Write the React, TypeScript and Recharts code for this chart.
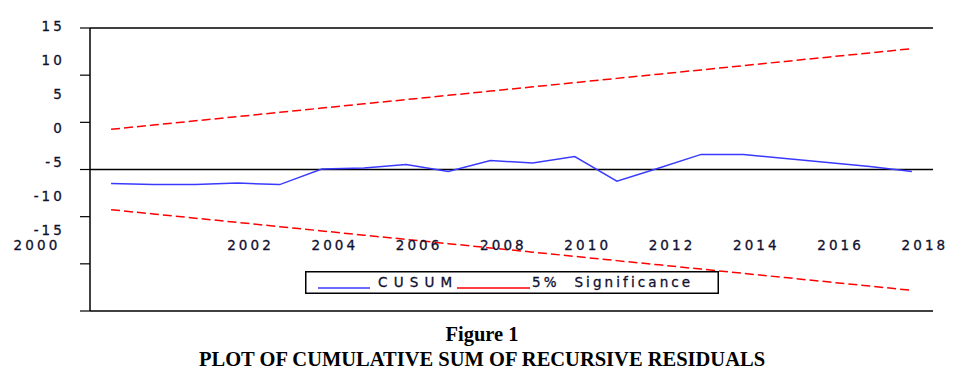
import { LineChart, Line, XAxis, YAxis, ReferenceLine, Legend } from 'recharts';

const years = [1999, 2000, 2001, 2002, 2003, 2004, 2005, 2006, 2007, 2008, 2009, 2010, 2011, 2012, 2013, 2014, 2015, 2016, 2017, 2018];
const cusum = [-1.49, -1.6, -1.6, -1.44, -1.6, 0.05, 0.16, 0.53, -0.21, 0.96, 0.69, 1.38, -1.24, 0.16, 1.6, 1.6, 1.17, 0.74, 0.32, -0.21];
const upper = [4.26, 4.71, 5.16, 5.61, 6.06, 6.51, 6.96, 7.41, 7.86, 8.31, 8.76, 9.21, 9.66, 10.11, 10.56, 11.01, 11.46, 11.91, 12.36, 12.81];
const lower = [-4.26, -4.71, -5.16, -5.61, -6.06, -6.51, -6.96, -7.41, -7.86, -8.31, -8.76, -9.21, -9.66, -10.11, -10.56, -11.01, -11.46, -11.91, -12.36, -12.81];
const yTicks = [-15, -10, -5, 0, 5, 10, 15];
const yearLabels = [2000, 2002, 2004, 2006, 2008, 2010, 2012, 2014, 2016, 2018];
const periodTicks = [1998.5, 1999.5, 2000.5, 2001.5, 2002.5, 2003.5, 2004.5, 2005.5, 2006.5, 2007.5, 2008.5, 2009.5, 2010.5, 2011.5, 2012.5, 2013.5, 2014.5, 2015.5, 2016.5, 2017.5, 2018.5];

const data = years.map((year, i) => ({ year, cusum: cusum[i], upper: upper[i], lower: lower[i] }));

const TOP = 27;
const LABEL_FONT = '"DejaVu Sans", Verdana, sans-serif';
const TEXT_COLOR = '#101030';

// the old EViews export has its labels squeezed / shifted against the ticks
function YTick({ y, payload }: any) {
  const ly = 25 + (y - TOP) * 0.7236;
  return (
    <text x={65} y={ly} dy="0.36em" textAnchor="end" fontFamily={LABEL_FONT} fontSize={13.5} letterSpacing={3.1}
      fill={TEXT_COLOR} stroke={TEXT_COLOR} strokeWidth={0.3}>
      {payload.value}
    </text>
  );
}

function YearTick({ x, payload }: any) {
  const lx = payload.value === 2000 ? 37 : x + 13;
  return (
    <text x={lx} y={245} dy="0.36em" textAnchor="middle" fontFamily={LABEL_FONT} fontSize={13.5} letterSpacing={3.1}
      fill={TEXT_COLOR} stroke={TEXT_COLOR} strokeWidth={0.3}>
      {payload.value}
    </text>
  );
}

function LegendBox() {
  return (
    <svg width={414} height={23} style={{ display: 'block' }}>
      <rect x={0.75} y={0.75} width={412.5} height={21.5} fill="#fff" stroke="#000" strokeWidth={1.5} />
      <line x1={13} x2={65} y1={17} y2={17} stroke="#3a3aff" strokeWidth={1.5} />
      <text x={73} y={16} fontFamily={LABEL_FONT} fontSize={13.5} letterSpacing={6.2} fill={TEXT_COLOR} stroke={TEXT_COLOR} strokeWidth={0.3}>
        CUSUM
      </text>
      <line x1={152} x2={225} y1={17} y2={17} stroke="#ff0000" strokeWidth={1.5} />
      <text x={227} y={16} fontFamily={LABEL_FONT} fontSize={13.5} letterSpacing={3.1} fill={TEXT_COLOR} stroke={TEXT_COLOR} strokeWidth={0.3}
        style={{ whiteSpace: 'pre' }}>
        {'5%  Significance'}
      </text>
    </svg>
  );
}

export default function App() {
  return (
    <div style={{ position: 'absolute', left: 0, top: 0, width: 960, height: 378, background: '#fff' }}>
      <LineChart width={960} height={378} data={data} margin={{ top: TOP, right: 27, bottom: 0, left: 60 }}>
        <XAxis
          xAxisId="periods"
          dataKey="year"
          type="number"
          domain={[1998.5, 2018.5]}
          ticks={periodTicks}
          tick={false}
          tickSize={6}
          height={67}
          axisLine={{ stroke: '#000', strokeWidth: 1.5 }}
          tickLine={{ stroke: '#000', strokeWidth: 1.2 }}
        />
        <XAxis
          xAxisId="labels"
          orientation="top"
          dataKey="year"
          type="number"
          domain={[1998.5, 2018.5]}
          ticks={yearLabels}
          tick={<YearTick />}
          tickLine={false}
          height={1}
          axisLine={{ stroke: '#000', strokeWidth: 1.5 }}
        />
        <YAxis
          yAxisId="left"
          domain={[-15, 15]}
          ticks={yTicks}
          width={30}
          tickSize={10}
          tick={<YTick />}
          axisLine={{ stroke: '#000', strokeWidth: 1.5 }}
          tickLine={{ stroke: '#000', strokeWidth: 1.2 }}
        />
        <YAxis
          yAxisId="right"
          orientation="right"
          domain={[-15, 15]}
          width={0}
          tick={false}
          tickLine={false}
          axisLine={{ stroke: '#333', strokeWidth: 1.5 }}
        />
        <ReferenceLine xAxisId="periods" yAxisId="left" y={0} stroke="#000" strokeWidth={1.3} />
        <Line xAxisId="periods" yAxisId="left" dataKey="cusum" stroke="#3a3aff" strokeWidth={1.5} dot={false} isAnimationActive={false} />
        <Line xAxisId="periods" yAxisId="left" dataKey="upper" stroke="#ff0000" strokeWidth={1.5} strokeDasharray="9 4" dot={false} isAnimationActive={false} />
        <Line xAxisId="periods" yAxisId="left" dataKey="lower" stroke="#ff0000" strokeWidth={1.5} strokeDasharray="9 4" dot={false} isAnimationActive={false} />
        <Legend
          layout="horizontal"
          verticalAlign="middle"
          align="center"
          content={<LegendBox />}
          wrapperStyle={{ left: 305, top: 271, width: 414, height: 23 }}
        />
      </LineChart>
      <div
        style={{
          position: 'absolute',
          left: 0,
          top: 322,
          width: 964,
          textAlign: 'center',
          fontFamily: '"Liberation Serif", "Times New Roman", serif',
          fontWeight: 'bold',
          fontSize: 20.5,
          lineHeight: '25px',
          color: '#000',
        }}
      >
        <div>Figure 1</div>
        <div>PLOT OF CUMULATIVE SUM OF RECURSIVE RESIDUALS</div>
      </div>
    </div>
  );
}
